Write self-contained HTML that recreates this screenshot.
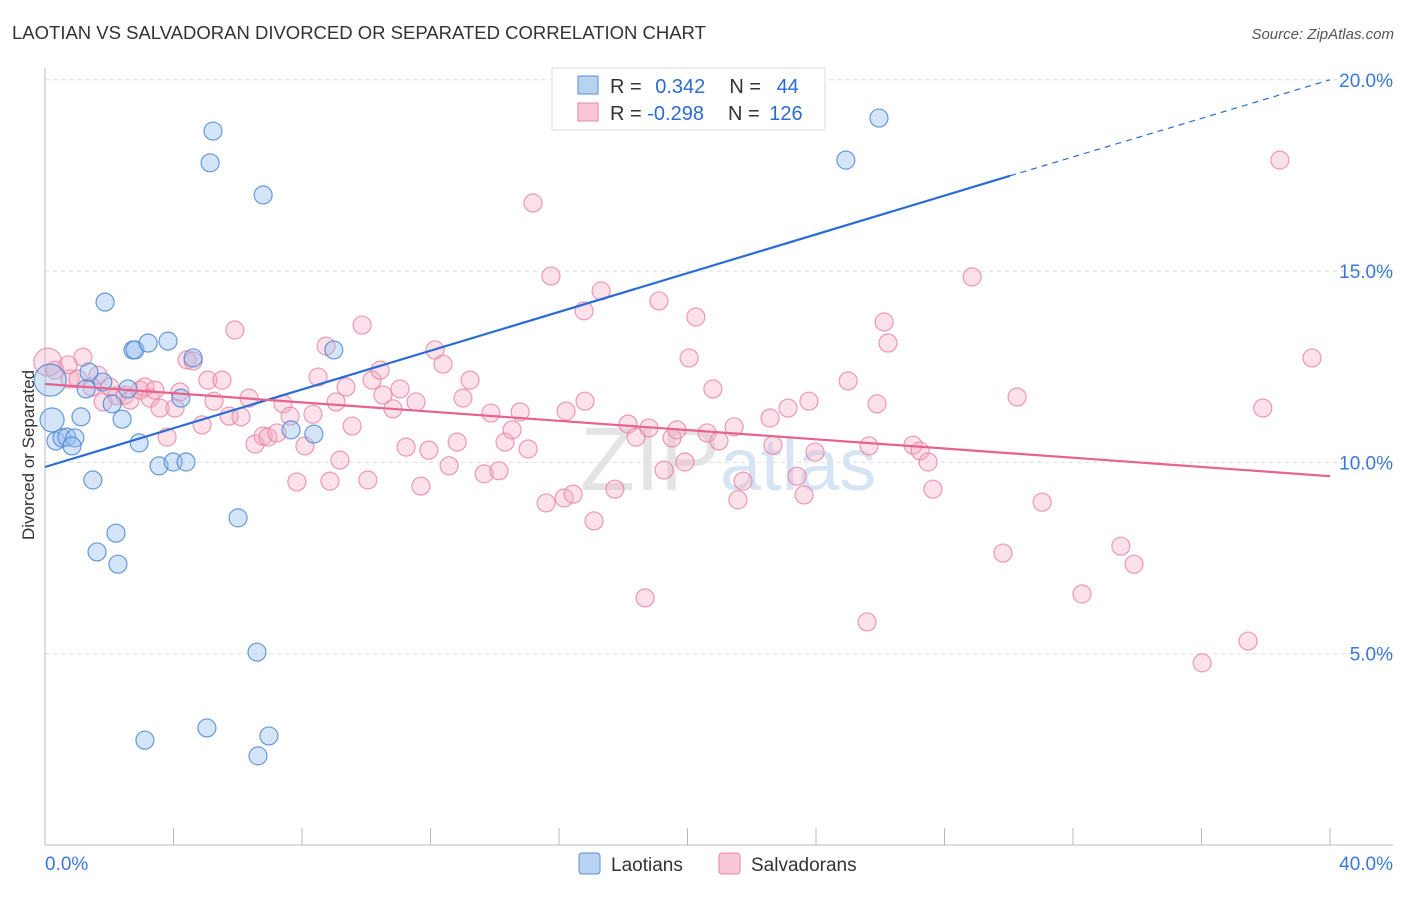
<!DOCTYPE html>
<html><head><meta charset="utf-8"><style>
body{margin:0;background:#fff;font-family:"Liberation Sans",sans-serif;}
svg text{font-family:"Liberation Sans",sans-serif;}
</style></head><body>
<svg id="chart" width="1406" height="892" xmlns="http://www.w3.org/2000/svg">
<text x="12" y="39" font-size="18.5" fill="#333">LAOTIAN VS SALVADORAN DIVORCED OR SEPARATED CORRELATION CHART</text>
<text x="1394" y="39" font-size="15" fill="#555" font-style="italic" text-anchor="end">Source: ZipAtlas.com</text>
<text x="720" y="490" font-size="90" fill="#e4e4e4" text-anchor="end" font-family="Liberation Serif">ZIP</text>
<text x="720" y="490" font-size="74" fill="#d6e4f4">atlas</text>
<g id="grid"></g><g id="axes"></g><g id="pts"></g><g id="lines"></g>
<text x="34" y="455" font-size="17" fill="#333" transform="rotate(-90 34 455)" text-anchor="middle">Divorced or Separated</text>
<g>
<rect x="552" y="68" width="273" height="62" fill="#fff" stroke="#ddd"/>
<rect x="578" y="76" width="20" height="18" fill="#b8d2f2" stroke="#5b8fd6"/>
<rect x="578" y="103" width="20" height="18" fill="#f9c6d5" stroke="#e58aa6"/>
<text x="610" y="93" font-size="20" fill="#333">R = <tspan fill="#2b6cd4" dx="8">0.342</tspan><tspan dx="24" fill="#333">N = </tspan><tspan fill="#2b6cd4" dx="10">44</tspan></text>
<text x="610" y="120" font-size="20" fill="#333">R = <tspan fill="#2b6cd4" dx="0">-0.298</tspan><tspan dx="24" fill="#333">N = </tspan><tspan fill="#2b6cd4" dx="4">126</tspan></text>
</g>
<g>
<rect x="579" y="853" width="21" height="21" rx="3" fill="#b8d2f2" stroke="#5b8fd6"/>
<text x="611" y="871" font-size="19" fill="#333">Laotians</text>
<rect x="719" y="853" width="21" height="21" rx="3" fill="#f9c6d5" stroke="#e58aa6"/>
<text x="751" y="871" font-size="19" fill="#333">Salvadorans</text>
</g>
</svg>
<script>
const yTicks=[5,10,15,20];
const yTickLabels=["5.0%","10.0%","15.0%","20.0%"];
const xTicks=[0,4,8,12,16,20,24,28,32,36,40];
const laoX=[0.22,0.16,0.34,0.53,0.68,0.93,0.84,1.12,1.28,1.37,1.49,1.62,1.80,1.87,2.09,2.21,2.27,2.40,2.58,2.74,2.80,2.93,3.11,3.21,3.55,3.83,3.99,4.23,4.39,4.61,5.04,5.14,5.23,6.01,6.60,6.63,6.79,6.97,7.66,8.37,8.99,24.93,25.96];
const laoY=[11.11,12.15,10.56,10.64,10.66,10.64,10.43,11.19,11.92,12.36,9.54,7.66,12.10,14.19,11.53,8.15,7.34,11.13,11.92,12.94,12.94,10.51,2.74,13.12,9.91,13.17,10.01,11.68,10.01,12.73,3.06,17.83,18.66,8.55,5.04,2.33,16.99,2.85,10.85,10.74,12.94,17.90,19.00];
const salX=[0.09,0.31,0.78,0.72,1.18,1.03,1.46,1.65,1.81,2.02,2.24,2.49,2.65,2.96,3.11,3.27,3.42,3.58,3.80,4.05,4.20,4.42,4.61,4.89,5.07,5.26,5.51,5.73,5.91,6.10,6.35,6.54,6.79,6.94,7.22,7.41,7.63,7.84,8.09,8.34,8.50,8.75,8.87,9.06,9.18,9.37,9.56,9.87,10.05,10.18,10.43,10.52,10.83,11.05,11.24,11.55,11.70,11.95,12.14,12.39,12.58,12.83,13.01,13.23,13.67,13.88,14.13,14.32,14.54,14.79,15.04,15.19,15.60,15.75,16.16,16.22,16.44,16.78,16.81,17.09,17.31,17.74,18.15,18.40,18.68,18.80,19.11,19.27,19.52,19.67,19.92,20.05,20.26,20.61,20.79,20.98,21.45,21.57,21.73,22.57,22.66,23.13,23.41,23.63,23.78,23.97,25.00,25.59,25.65,25.90,26.12,26.24,27.02,27.24,27.49,27.64,28.86,29.82,30.26,31.04,32.28,33.49,33.90,36.02,37.45,37.91,38.44,39.44];
const salY=[12.62,12.41,12.18,12.55,12.75,12.18,11.97,12.28,11.58,11.97,11.74,11.76,11.63,11.89,11.97,11.68,11.89,11.42,10.66,11.42,11.84,12.68,12.65,10.98,12.15,11.60,12.15,11.21,13.46,11.19,11.68,10.48,10.69,10.66,10.77,11.53,11.21,9.49,10.43,11.26,12.23,13.04,9.51,11.58,10.06,11.97,10.95,13.59,9.54,12.15,12.41,11.76,11.40,11.92,10.40,11.58,9.38,10.32,12.94,12.57,9.91,10.53,11.68,12.15,9.70,11.29,9.78,10.53,10.85,11.32,10.35,16.78,8.94,14.87,9.07,11.34,9.17,13.96,11.60,8.47,14.48,9.30,11.00,10.66,6.46,10.90,14.22,9.80,10.64,10.85,10.01,12.73,13.80,10.77,11.92,10.56,10.93,9.02,9.51,11.16,10.45,11.42,9.64,9.15,11.60,10.27,12.13,5.83,10.43,11.53,13.67,13.12,10.45,10.30,10.01,9.30,14.85,7.63,11.71,8.96,6.56,7.81,7.34,4.76,5.33,11.42,17.90,12.73];
const laoLine=[9.88,17.49,20.0];const laoLineX=[0,30.04,40];
const salLine=[12.05,9.64];

const X=v=>45+v*32.125, Y=v=>845-v*38.26;
const NS="http://www.w3.org/2000/svg";
function mk(p,t,a){const e=document.createElementNS(NS,t);for(const k in a)e.setAttribute(k,a[k]);p.appendChild(e);return e;}
const grid=document.getElementById('grid'),axes=document.getElementById('axes'),pts=document.getElementById('pts'),lines=document.getElementById('lines');
yTicks.forEach((t,i)=>{
 const l=mk(grid,'line',{x1:45,x2:1393,y1:Y(t),y2:Y(t),stroke:'#ddd','stroke-dasharray':'4 4'});
 
 
 const tx=mk(axes,'text',{x:1393,y:Y(t)+7,'font-size':19,fill:'#3a78d6','text-anchor':'end'});tx.textContent=yTickLabels[i];
 
 
});
mk(axes,'line',{x1:45,x2:45,y1:68,y2:845,stroke:'#bbb'});
mk(axes,'line',{x1:45,x2:1393,y1:845,y2:845,stroke:'#bbb'});
xTicks.forEach(t=>{const l=mk(axes,'line',{x1:X(t),x2:X(t),y1:828,y2:845,stroke:'#bbb'});
 
 });
const x0=mk(axes,'text',{x:45,y:870,'font-size':19,fill:'#3a78d6'});x0.textContent='0.0%';


const x1=mk(axes,'text',{x:1393,y:870,'font-size':19,fill:'#3a78d6','text-anchor':'end'});x1.textContent='40.0%';


salX.forEach((x,i)=>{const c=mk(pts,'circle',{cx:X(x),cy:Y(salY[i]),r:i===0?14:9,fill:'rgba(246,170,195,0.35)',stroke:'rgba(232,130,162,0.8)','stroke-width':1.2});
 
 });
laoX.forEach((x,i)=>{const c=mk(pts,'circle',{cx:X(x),cy:Y(laoY[i]),r:i===1?16:(i===0?12:9),fill:'rgba(150,190,240,0.4)',stroke:'rgba(70,130,210,0.8)','stroke-width':1.2});
 
 });
const bl=mk(lines,'line',{x1:X(laoLineX[0]),y1:Y(laoLine[0]),x2:X(laoLineX[1]),y2:Y(laoLine[1]),stroke:'#2b6cd4','stroke-width':2.2});


const bd=mk(lines,'line',{x1:X(laoLineX[1]),y1:Y(laoLine[1]),x2:X(laoLineX[2]),y2:Y(laoLine[2]),stroke:'#2b6cd4','stroke-width':1.2,'stroke-dasharray':'6 5'});


const pl=mk(lines,'line',{x1:X(0),y1:Y(salLine[0]),x2:X(40),y2:Y(salLine[1]),stroke:'#e8628e','stroke-width':2.2});


</script>
</body></html>
